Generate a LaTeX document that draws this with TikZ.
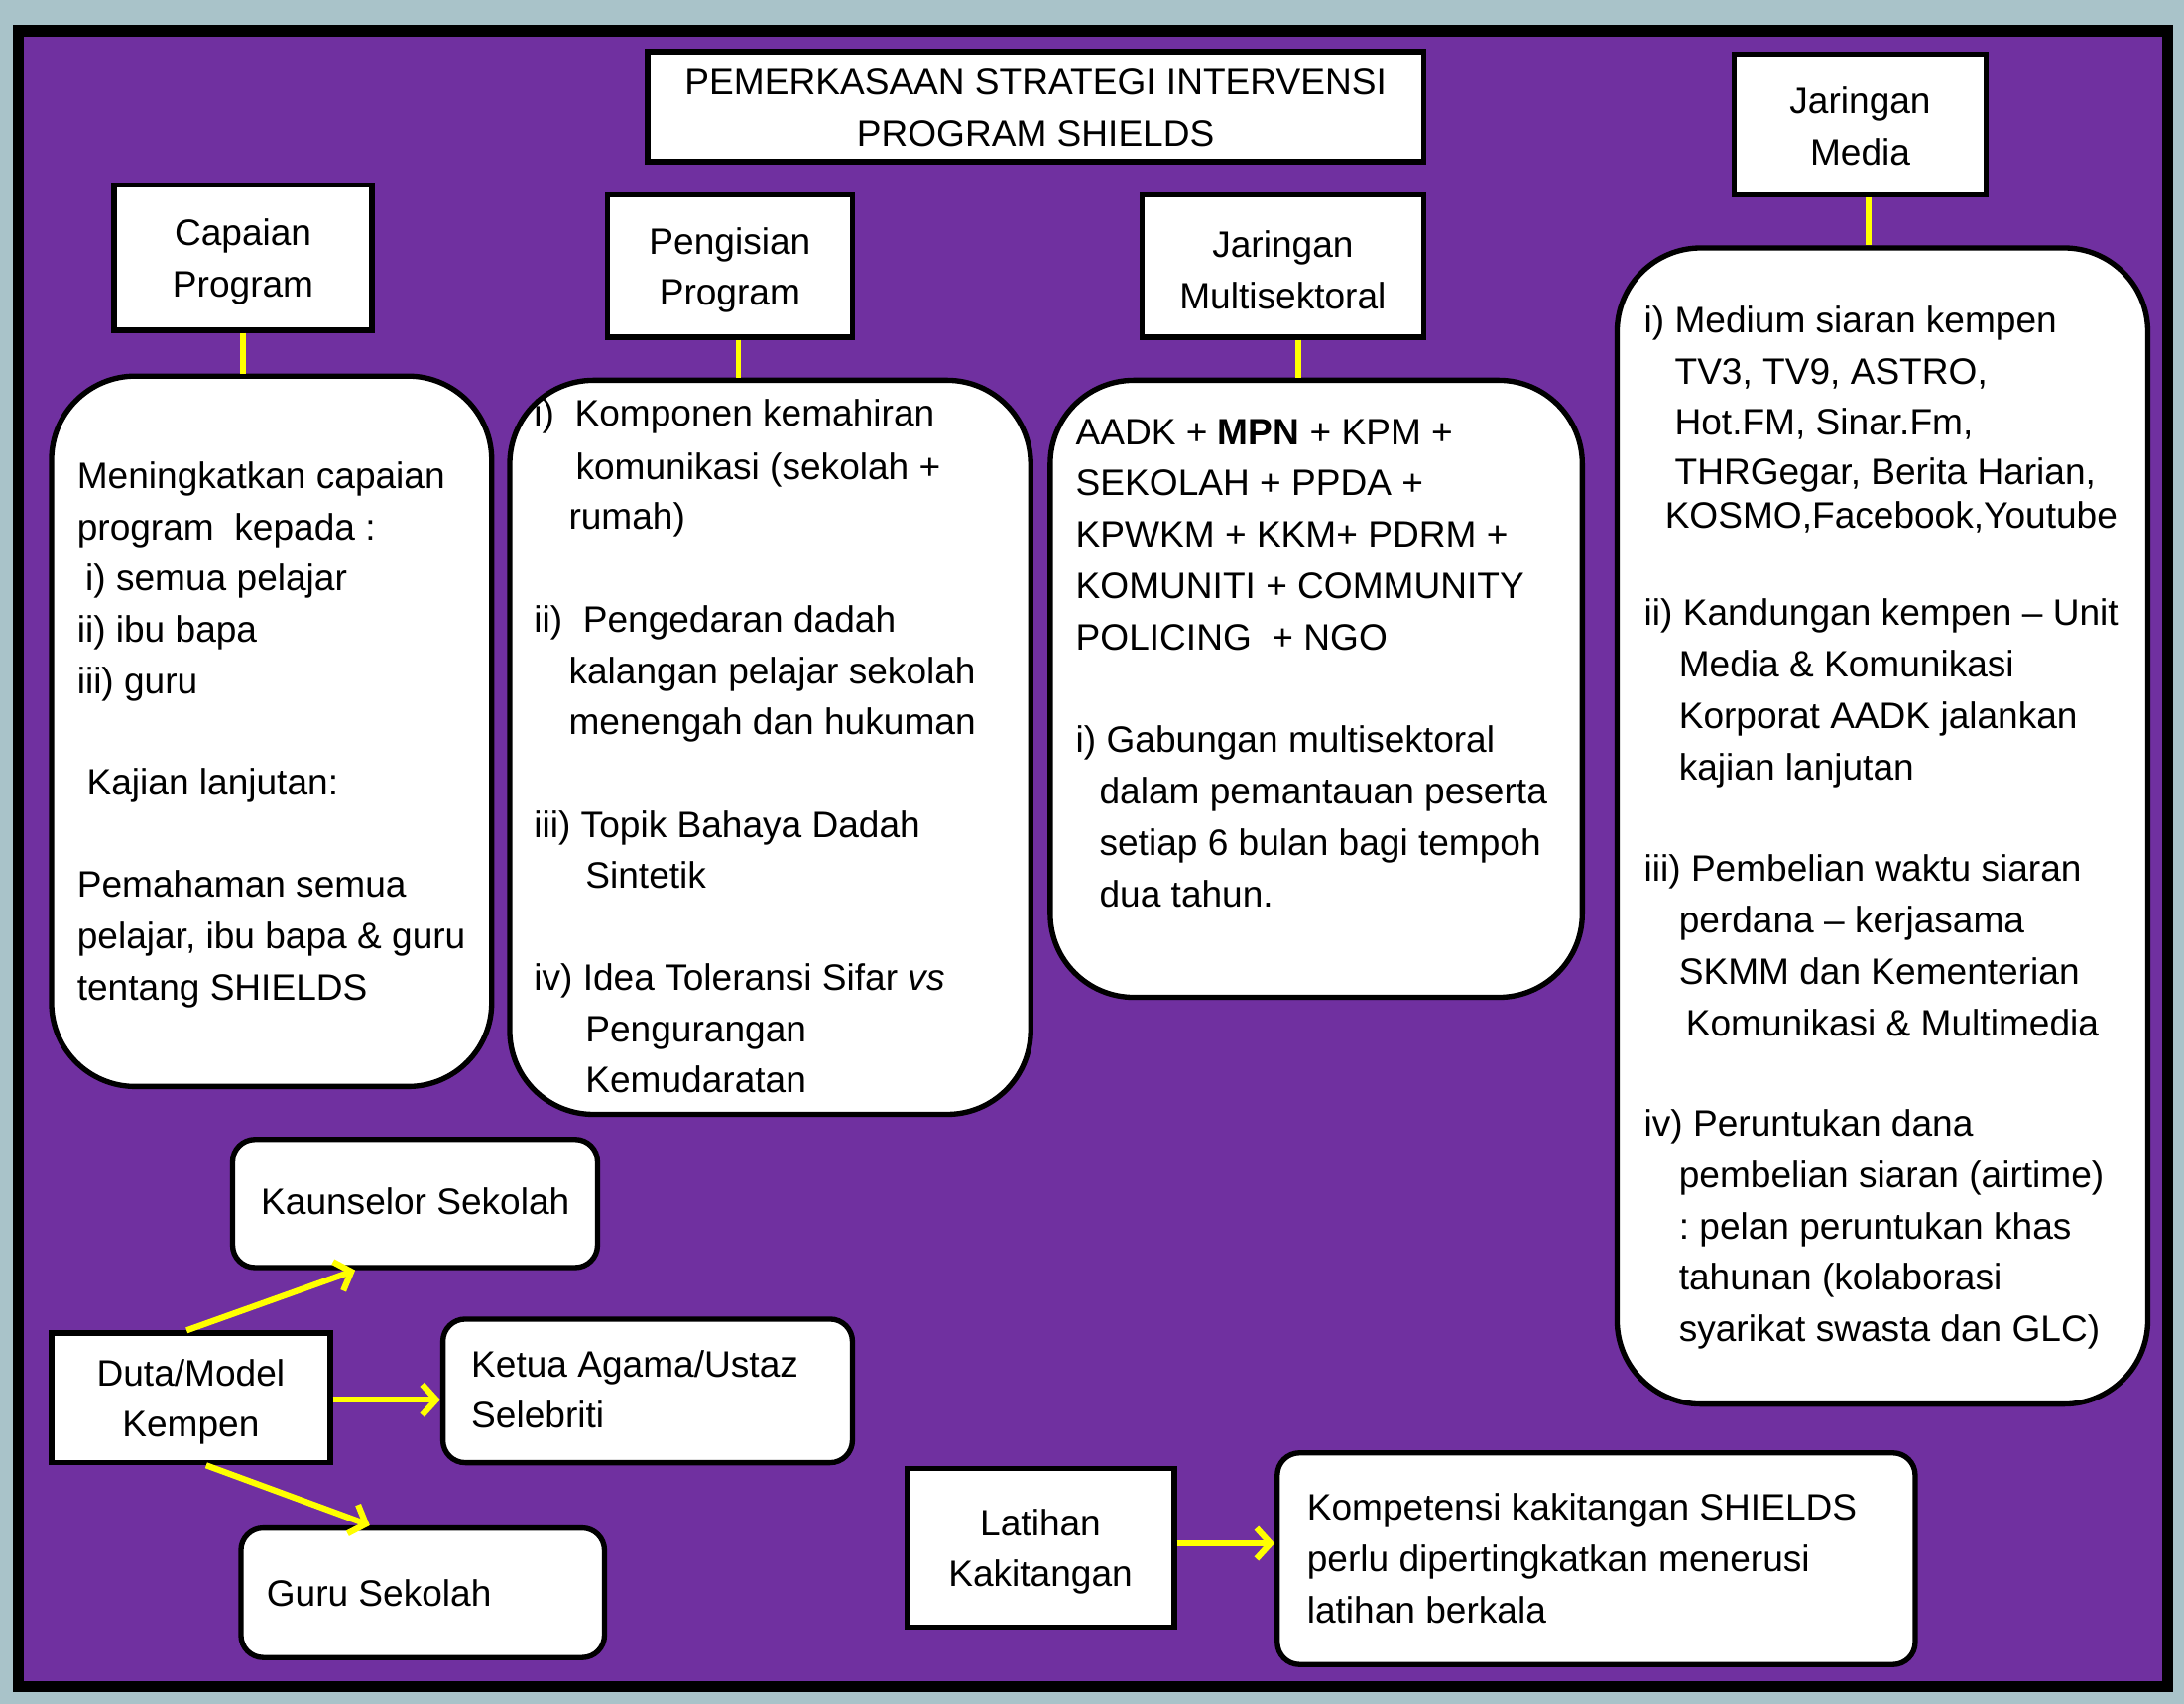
\documentclass[tikz,border=0pt]{standalone}
\usepackage{fontspec}
\setmainfont{Liberation Sans}
\usetikzlibrary{fit,arrows.meta}
\definecolor{bgc}{HTML}{A9C3C9}
\definecolor{purp}{HTML}{7030A0}
\definecolor{yel}{HTML}{FFFF00}
\frenchspacing
\newcommand\dfont{\fontsize{13.2}{18.4}\selectfont}
\newcommand\tline[4]{\node[txt,anchor=base west] (#1) at (#2,#3) {#4};}
\tikzset{
  box/.style={draw=black, line width=1.9pt, fill=white, inner sep=0pt},
  sqbox/.style={box},
  bigbox/.style={box, rounded corners=30pt},
  smallbox/.style={box, rounded corners=8pt},
  txt/.style={inner sep=0pt, font=\dfont},
  ctxt/.style={txt, align=center, yshift=-1.5pt},
  link/.style={draw=yel, line width=1.9pt},
  arr/.style={draw=yel, line width=2.2pt, -{Straight Barb[length=5pt,width=11pt]}},
}
\begin{document}
\frenchspacing
\begin{tikzpicture}[x=0.5pt,y=-0.5pt]
\useasboundingbox (0,0) rectangle (1568,1223);
\fill[bgc] (0,0) rectangle (1568,1223);
\node[draw=black, line width=4pt, fill=purp, inner sep=0pt, fit={(13,22) (1556,1211)}] (frame) {};

% header boxes
\node[sqbox, fit={(465,37) (1022,116)}] (title) {};
\node[ctxt, yshift=1pt] (titlet) at (title.center) {PEMERKASAAN STRATEGI INTERVENSI\\PROGRAM SHIELDS};
\node[sqbox, fit={(82,133) (267,237)}] (capaian) {};
\node[ctxt] (capaiant) at (capaian.center) {Capaian\\Program};
\node[sqbox, fit={(436,140) (612,242)}] (pengisian) {};
\node[ctxt] (pengisiant) at (pengisian.center) {Pengisian\\Program};
\node[sqbox, fit={(820,140) (1022,242)}] (multi) {};
\node[ctxt] (multit) at (multi.center) {Jaringan\\Multisektoral};
\node[sqbox, fit={(1245,39) (1426,140)}] (media) {};
\node[ctxt, yshift=1pt] (mediat) at (media.center) {Jaringan\\Media};

% big rounded boxes
\node[bigbox, fit={(37,270) (353,780)}] (b1) {};
\node[bigbox, fit={(366,273) (740,800)}] (b2) {};
\node[bigbox, fit={(754,273) (1136,716)}] (b3) {};
\node[bigbox, fit={(1161,178) (1542,1008)}] (b4) {};

% links
\draw[link] (capaian.south) -- (capaian.south |- b1.north);
\draw[link] ([xshift=3pt]pengisian.south) -- ([xshift=3pt]pengisian.south |- b2.north);
\draw[link] ([xshift=5.5pt]multi.south) -- ([xshift=5.5pt]multi.south |- b3.north);
\draw[link] ([xshift=3pt]media.south) -- ([xshift=3pt]media.south |- b4.north);

% box 1 text
\tline{a1}{55}{351}{Meningkatkan capaian}
\tline{a2}{55}{388}{program\ \ kepada :}
\tline{a3}{61}{424}{i) semua pelajar}
\tline{a4}{55}{461}{ii) ibu bapa}
\tline{a5}{55}{498}{iii) guru}
\tline{a6}{62}{571}{Kajian lanjutan:}
\tline{a7}{55}{644}{Pemahaman semua}
\tline{a8}{55}{681}{pelajar, ibu bapa \& guru}
\tline{a9}{55}{718}{tentang SHIELDS}

% box 2 text
\tline{p1}{383}{306}{i)\ \ Komponen kemahiran}
\tline{p2}{413}{344}{komunikasi (sekolah +}
\tline{p3}{408}{380}{rumah)}
\tline{p4}{383}{454}{ii)\ \ Pengedaran dadah}
\tline{p5}{408}{491}{kalangan pelajar sekolah}
\tline{p6}{408}{527}{menengah dan hukuman}
\tline{p7}{383}{601}{iii) Topik Bahaya Dadah}
\tline{p8}{420}{638}{Sintetik}
\tline{p9}{383}{711}{iv) Idea Toleransi Sifar \textit{vs}}
\tline{p10}{420}{748}{Pengurangan}
\tline{p11}{420}{784}{Kemudaratan}

% box 3 text
\tline{m1}{772}{319}{AADK + \textbf{MPN} + KPM +}
\tline{m2}{772}{356}{SEKOLAH + PPDA +}
\tline{m3}{772}{393}{KPWKM + KKM+ PDRM +}
\tline{m4}{772}{430}{KOMUNITI + COMMUNITY}
\tline{m5}{772}{467}{POLICING\ \ + NGO}
\tline{m6}{772}{540}{i) Gabungan multisektoral}
\tline{m7}{789}{577}{dalam pemantauan peserta}
\tline{m8}{789}{614}{setiap 6 bulan bagi tempoh}
\tline{m9}{789}{651}{dua tahun.}

% box 4 text
\tline{d1}{1180}{239}{i) Medium siaran kempen}
\tline{d2}{1202}{276}{TV3, TV9, ASTRO,}
\tline{d3}{1202}{312}{Hot.FM, Sinar.Fm,}
\tline{d4}{1202}{348}{THRGegar, Berita Harian,}
\tline{d5}{1195}{379}{KOSMO,Facebook,Youtube}
\tline{d6}{1180}{449}{ii) Kandungan kempen – Unit}
\tline{d7}{1205}{486}{Media \& Komunikasi}
\tline{d8}{1205}{523}{Korporat AADK jalankan}
\tline{d9}{1205}{560}{kajian lanjutan}
\tline{d10}{1180}{633}{iii) Pembelian waktu siaran}
\tline{d11}{1205}{670}{perdana – kerjasama}
\tline{d12}{1205}{707}{SKMM dan Kementerian}
\tline{d13}{1210}{744}{Komunikasi \& Multimedia}
\tline{d14}{1180}{816}{iv) Peruntukan dana}
\tline{d15}{1205}{853}{pembelian siaran (airtime)}
\tline{d16}{1205}{890}{: pelan peruntukan khas}
\tline{d17}{1205}{926}{tahunan (kolaborasi}
\tline{d18}{1205}{963}{syarikat swasta dan GLC)}

% campaign section
\node[smallbox, fit={(167,818) (429,910)}] (kaun) {};
\tline{k1}{187}{872}{Kaunselor Sekolah}
\node[sqbox, fit={(37,957) (237,1050)}] (duta) {};
\node[ctxt] (dutat) at (duta.center) {Duta/Model\\Kempen};
\node[smallbox, fit={(318,947) (612,1050)}] (ketua) {};
\tline{u1}{338}{989}{Ketua Agama/Ustaz}
\tline{u2}{338}{1025}{Selebriti}
\node[smallbox, fit={(173,1097) (434,1190)}] (guru) {};
\tline{g1}{191}{1153}{Guru Sekolah}

\draw[arr] ([xshift=-1.5pt]duta.north) -- ([xshift=-21.5pt]kaun.south);
\draw[arr] ([yshift=-0.7pt]duta.east) -- ([yshift=-0.7pt]duta.east -| ketua.west);
\draw[arr] ([xshift=5.5pt]duta.south) -- ([xshift=-19pt]guru.north);

% training section
\node[sqbox, fit={(651,1054) (843,1168)}] (latihan) {};
\node[ctxt] (latihant) at (latihan.center) {Latihan\\Kakitangan};
\node[smallbox, fit={(917,1043) (1375,1195)}] (komp) {};
\tline{c1}{938}{1091}{Kompetensi kakitangan SHIELDS}
\tline{c2}{938}{1128}{perlu dipertingkatkan menerusi}
\tline{c3}{938}{1165}{latihan berkala}
\draw[arr] ([yshift=1.5pt]latihan.east) -- ([yshift=1.5pt]latihan.east -| komp.west);
\end{tikzpicture}
\end{document}
